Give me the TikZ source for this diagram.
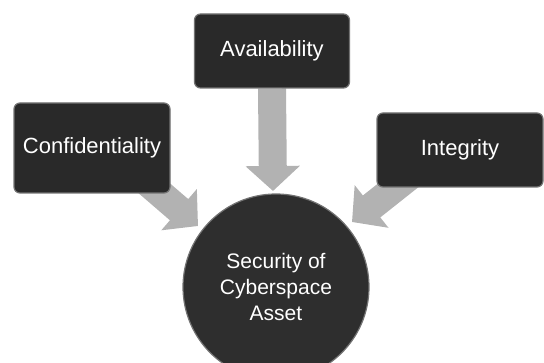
\documentclass[tikz,border=0pt]{standalone}
\usepackage{fontspec}
\setmainfont{Liberation Sans}
\usetikzlibrary{arrows.meta, backgrounds}

\begin{document}
\begin{tikzpicture}[x=1pt, y=-1pt,
  pillar/.style={draw=black!55, line width=1.2pt, fill=black!84, rounded corners=6pt,
    text=white, font=\fontsize{22}{26}\selectfont, minimum height=74pt, inner sep=0pt},
  core/.style={circle, draw=black!55, line width=1.2pt, fill=black!82, text=white,
    font=\fontsize{21}{26}\selectfont, align=center, minimum size=186pt, inner sep=0pt},
  feed/.style={line width=28pt, draw=black!30, -{Triangle[length=25pt, width=53pt]}}]
% Canvas
\useasboundingbox (0,0) rectangle (544,363);
\clip (0,0) rectangle (544,363);

% Boxes and centre
\node[pillar, minimum width=155pt] (avail) at (272,51) {Availability};
\node[pillar, minimum width=156pt, minimum height=90pt] (conf) at (92,148) {Confidentiality};
\node[pillar, minimum width=166pt] (integ) at (460,150) {Integrity};
\node[core] (asset) at (276,287) {Security of\\Cyberspace\\Asset};

% Arrow ends
\coordinate (availtip) at (273,191);
\coordinate (conftail) at (140,176);
\coordinate (conftip) at (198,226);
\coordinate (integtail) at (410,176);
\coordinate (integtip) at (352,222);

% Block arrows behind the boxes
\begin{scope}[on background layer]
\draw[feed] (avail.south) -- (availtip);
\draw[feed] (conftail) -- (conftip);
\draw[feed] (integtail) -- (integtip);
\end{scope}
\end{tikzpicture}
\end{document}
